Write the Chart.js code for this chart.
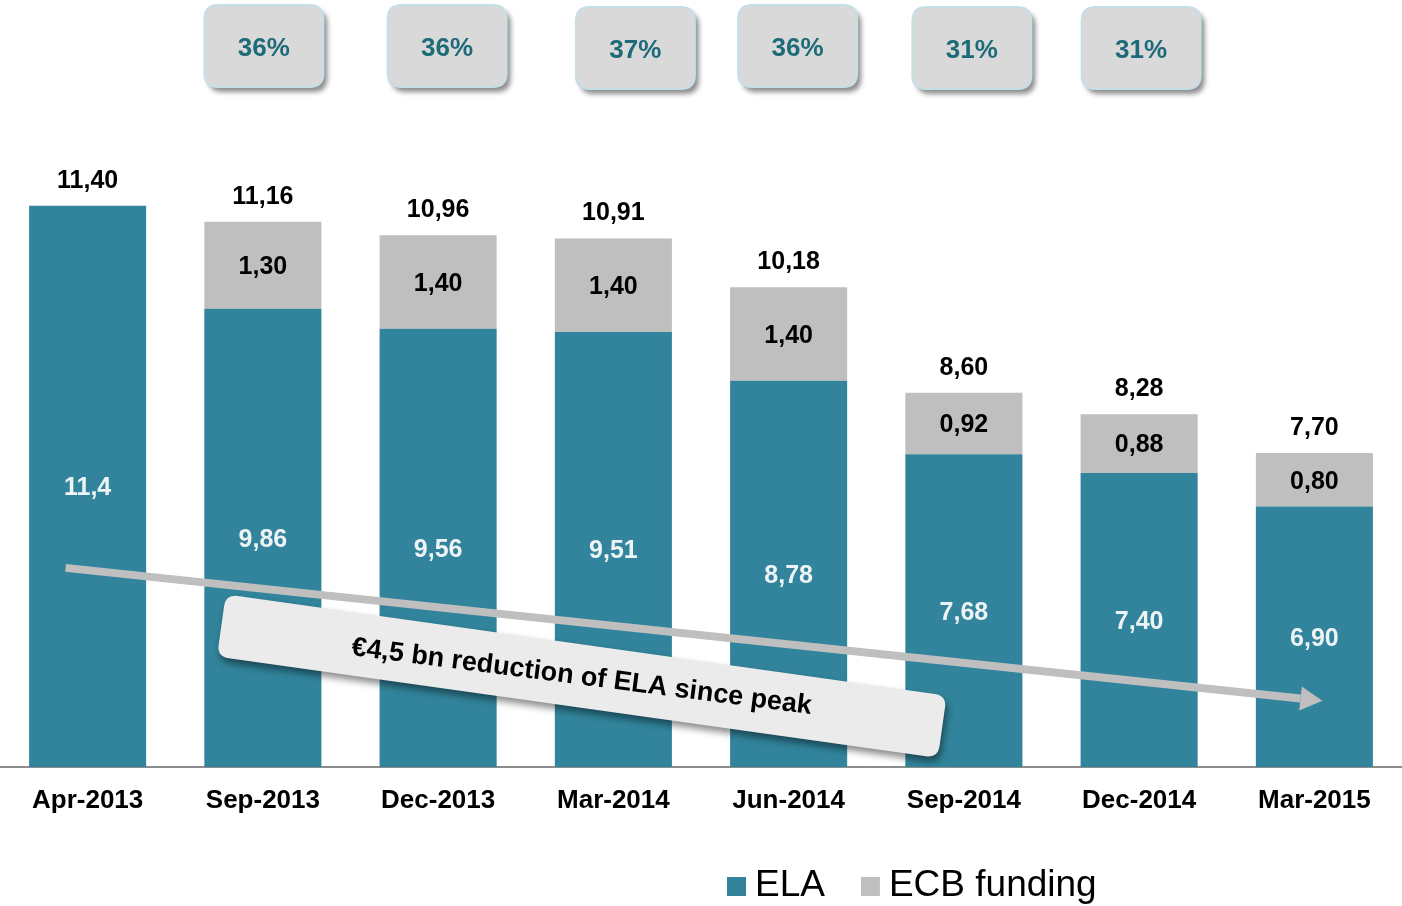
<!DOCTYPE html>
<html>
<head>
<meta charset="utf-8">
<script src="https://cdn.jsdelivr.net/npm/chart.js@4.4.1/dist/chart.umd.min.js"></script>
<style>
  html, body { margin: 0; padding: 0; background: #fff; }
  #wrap { width: 1402px; height: 906px; position: relative; }
</style>
</head>
<body>
<div id="wrap"><canvas id="elaChart"></canvas></div>
<script>
const categories = ['Apr-2013', 'Sep-2013', 'Dec-2013', 'Mar-2014', 'Jun-2014', 'Sep-2014', 'Dec-2014', 'Mar-2015'];
const elaValues = [11.4, 9.86, 9.56, 9.51, 8.78, 7.68, 7.40, 6.90];
const ecbValues = [0, 1.30, 1.40, 1.40, 1.40, 0.92, 0.88, 0.80];
const elaLabels = ['11,4', '9,86', '9,56', '9,51', '8,78', '7,68', '7,40', '6,90'];
// share boxes on top, Sep-2013 .. Dec-2014
const shareIndex = [1, 2, 3, 4, 5, 6];
const shareLabels = ['36%', '36%', '37%', '36%', '31%', '31%'];
const arrowNote = '€4,5 bn reduction of ELA since peak';

const TEAL = '#31849b';
const GREY = '#bfbfbf';
const FONT = '"Liberation Sans", Arial, sans-serif';

const fmt = v => v.toFixed(2).replace('.', ',');

function roundedRect(ctx, x, y, w, h, r) {
  ctx.beginPath();
  ctx.moveTo(x + r, y);
  ctx.lineTo(x + w - r, y);
  ctx.quadraticCurveTo(x + w, y, x + w, y + r);
  ctx.lineTo(x + w, y + h - r);
  ctx.quadraticCurveTo(x + w, y + h, x + w - r, y + h);
  ctx.lineTo(x + r, y + h);
  ctx.quadraticCurveTo(x, y + h, x, y + h - r);
  ctx.lineTo(x, y + r);
  ctx.quadraticCurveTo(x, y, x + r, y);
  ctx.closePath();
}

// value labels, arrow and the rotated note
const annotations = {
  id: 'annotations',
  afterDatasetsDraw(chart) {
    const ctx = chart.ctx;
    const xs = chart.scales.x, ys = chart.scales.y;
    const ela = chart.getDatasetMeta(0).data;
    const ecb = chart.getDatasetMeta(1).data;
    const bottom = chart.chartArea.bottom;

    ctx.save();
    ctx.font = 'bold 25px ' + FONT;
    ctx.textAlign = 'center';
    ctx.textBaseline = 'middle';
    ela.forEach((bar, i) => {
      ctx.fillStyle = '#eef4f6';
      ctx.fillText(elaLabels[i], bar.x, (bar.y + Math.min(bar.base, bottom)) / 2 + 2);
      const top = ecb[i];
      ctx.fillStyle = '#000';
      if (ecbValues[i] > 0) {
        ctx.fillText(fmt(ecbValues[i]), top.x, (top.y + top.base) / 2 + 2);
      }
      ctx.fillText(fmt(elaValues[i] + ecbValues[i]), bar.x, Math.min(bar.y, top.y) - 25);
    });

    // trend arrow
    const x0 = xs.getPixelForValue(0) - 22, y0 = ys.getPixelForValue(5.98);
    const x1 = xs.getPixelForValue(7) + 8, y1 = ys.getPixelForValue(3.99);
    const ang = Math.atan2(y1 - y0, x1 - x0);
    const headLen = 22, headW = 12;
    const bx = x1 - headLen * Math.cos(ang), by = y1 - headLen * Math.sin(ang);
    ctx.strokeStyle = GREY;
    ctx.lineWidth = 8;
    ctx.beginPath();
    ctx.moveTo(x0, y0);
    ctx.lineTo(bx, by);
    ctx.stroke();
    ctx.fillStyle = GREY;
    ctx.beginPath();
    ctx.moveTo(x1, y1);
    ctx.lineTo(bx + headW * Math.sin(ang), by - headW * Math.cos(ang));
    ctx.lineTo(bx - headW * Math.sin(ang), by + headW * Math.cos(ang));
    ctx.closePath();
    ctx.fill();

    // rotated note box
    const step = xs.getPixelForValue(3) - xs.getPixelForValue(2);
    const cx = xs.getPixelForValue(2) + 0.82 * step;
    const cy = ys.getPixelForValue(4.36);
    const w = 728, h = 63;
    ctx.translate(cx, cy);
    ctx.rotate(8 * Math.PI / 180);
    ctx.shadowColor = 'rgba(0,0,0,0.45)';
    ctx.shadowBlur = 7;
    ctx.shadowOffsetX = 2;
    ctx.shadowOffsetY = 5;
    roundedRect(ctx, -w / 2, -h / 2, w, h, 12);
    ctx.fillStyle = '#ebebeb';
    ctx.fill();
    ctx.shadowColor = 'transparent';
    ctx.rotate(-0.7 * Math.PI / 180);
    ctx.fillStyle = '#000';
    ctx.font = 'bold 27px ' + FONT;
    ctx.fillText(arrowNote, 0, 1);
    ctx.restore();
  },
  afterDraw(chart) {
    const ctx = chart.ctx;
    const xs = chart.scales.x;
    // share boxes
    const offsets = [1, 9, 22, 9, 8, 2];
    const tops = [5, 5, 7, 5, 7, 7];
    ctx.save();
    shareLabels.forEach((txt, k) => {
      const cx = xs.getPixelForValue(shareIndex[k]) + offsets[k];
      const bw = 119, bh = 82;
      ctx.shadowColor = 'rgba(0,0,0,0.45)';
      ctx.shadowBlur = 5;
      ctx.shadowOffsetX = 4;
      ctx.shadowOffsetY = 5;
      roundedRect(ctx, cx - bw / 2, tops[k], bw, bh, 14);
      ctx.fillStyle = '#d9d9d9';
      ctx.fill();
      ctx.shadowColor = 'transparent';
      ctx.strokeStyle = '#c6dfe6';
      ctx.lineWidth = 2;
      ctx.stroke();
      ctx.fillStyle = '#1d6b78';
      ctx.font = 'bold 26px ' + FONT;
      ctx.textAlign = 'center';
      ctx.textBaseline = 'middle';
      ctx.fillText(txt, cx, tops[k] + bh / 2 + 3);
    });

    // legend
    ctx.font = '37px ' + FONT;
    ctx.textAlign = 'left';
    ctx.textBaseline = 'middle';
    let lx = 727;
    chart.data.datasets.forEach(ds => {
      ctx.fillStyle = ds.backgroundColor;
      ctx.fillRect(lx, 877, 19, 19);
      ctx.fillStyle = '#000';
      ctx.fillText(ds.label, lx + 28, 886);
      lx += 28 + ctx.measureText(ds.label).width + 36;
    });
    ctx.restore();
  }
};

const ctx = document.getElementById('elaChart').getContext('2d');
const elaChart = new Chart(ctx, {
  type: 'bar',
  data: {
    labels: categories,
    datasets: [
      { label: 'ELA', data: elaValues, backgroundColor: TEAL, borderWidth: 0 },
      { label: 'ECB funding', data: ecbValues, backgroundColor: GREY, borderWidth: 0 }
    ]
  },
  options: {
    responsive: true,
    maintainAspectRatio: false,
    animation: false,
    datasets: { bar: { categoryPercentage: 1, barPercentage: 0.668 } },
    layout: { padding: { top: 32, left: 0, right: 0, bottom: 0 } },
    scales: {
      x: {
        stacked: true,
        grid: { display: false, drawTicks: false },
        border: { display: true, color: '#8c8c8c', width: 2 },
        ticks: {
          color: '#000',
          padding: 18,
          font: { family: FONT, size: 26, weight: 'bold' }
        },
        afterFit(scale) { scale.height = 139; }
      },
      y: {
        stacked: true,
        display: false,
        min: 3,
        max: 14
      }
    },
    plugins: {
      legend: { display: false },
      tooltip: { enabled: false }
    }
  },
  plugins: [annotations]
});
</script>
</body>
</html>
